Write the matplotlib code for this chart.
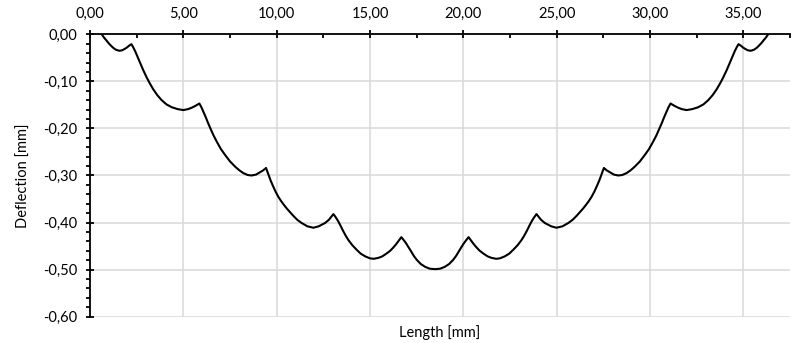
import matplotlib
matplotlib.use("Agg")
import matplotlib.pyplot as plt
from matplotlib.ticker import MultipleLocator, FuncFormatter

# Deflection line (x in mm, y in mm)
length_mm = [
    0.63, 0.75, 0.88, 1.00, 1.12, 1.25, 1.40, 1.57, 1.72, 1.86, 1.98, 2.10, 2.22,
    2.32, 2.42, 2.55, 2.68, 2.85, 3.04, 3.20, 3.39, 3.60, 3.84, 4.10, 4.38,
    4.70, 5.00, 5.25, 5.45, 5.65, 5.86,
    5.98, 6.08, 6.20, 6.32, 6.45, 6.62, 6.79, 7.00, 7.23, 7.50, 7.77, 8.00,
    8.22, 8.45, 8.66, 8.90, 9.11, 9.28, 9.43,
    9.55, 9.67, 9.80, 9.95, 10.10, 10.25, 10.40, 10.56, 10.72, 10.90, 11.10,
    11.34, 11.65, 11.97, 12.25, 12.59, 12.80, 13.04,
    13.15, 13.28, 13.40, 13.55, 13.70, 13.84, 14.05, 14.29, 14.50, 14.75,
    15.00, 15.20, 15.45, 15.65, 15.88, 16.08, 16.25, 16.40, 16.55, 16.68,
    16.80, 16.93, 17.06, 17.20, 17.35, 17.50, 17.72, 17.95, 18.20, 18.48,
    18.76, 19.01, 19.24, 19.46, 19.61, 19.76, 19.90, 20.03, 20.16, 20.28,
    20.41, 20.56, 20.71, 20.88, 21.08, 21.31, 21.51, 21.76, 21.96, 22.21,
    22.46, 22.67, 22.91, 23.12, 23.26, 23.41, 23.56, 23.68, 23.81, 23.92,
    24.16, 24.37, 24.71, 24.99, 25.31, 25.62, 25.86, 26.06, 26.24, 26.40,
    26.56, 26.71, 26.86, 27.01, 27.16, 27.29, 27.41, 27.53,
    27.68, 27.85, 28.06, 28.30, 28.51, 28.74, 28.96, 29.19, 29.46, 29.73,
    29.96, 30.17, 30.34, 30.51, 30.64, 30.76, 30.88, 30.98, 31.10,
    31.31, 31.51, 31.71, 31.96, 32.26, 32.58, 32.86, 33.12, 33.36, 33.57,
    33.76, 33.92, 34.11, 34.28, 34.41, 34.54, 34.64, 34.74,
    34.86, 34.98, 35.10, 35.24, 35.39, 35.56, 35.71, 35.84, 35.96, 36.08,
    36.21, 36.33,
]
deflection_mm = [
    0.000, -0.007, -0.013, -0.019, -0.024, -0.029, -0.033, -0.035, -0.034,
    -0.031, -0.028, -0.024, -0.021,
    -0.028, -0.036, -0.048, -0.060, -0.076, -0.092, -0.104, -0.117, -0.129,
    -0.140, -0.149, -0.155, -0.159, -0.161, -0.159, -0.156, -0.152, -0.147,
    -0.156, -0.165, -0.176, -0.188, -0.200, -0.215, -0.228, -0.243, -0.256,
    -0.270, -0.281, -0.289, -0.295, -0.299, -0.300, -0.298, -0.293, -0.289,
    -0.284,
    -0.297, -0.310, -0.322, -0.335, -0.346, -0.355, -0.363, -0.371, -0.378,
    -0.386, -0.394, -0.401, -0.408, -0.411, -0.408, -0.401, -0.394, -0.382,
    -0.388, -0.396, -0.405, -0.417, -0.428, -0.437, -0.448, -0.458, -0.466,
    -0.472, -0.476, -0.477, -0.475, -0.472, -0.466, -0.460, -0.453, -0.446,
    -0.438, -0.431,
    -0.437, -0.444, -0.452, -0.461, -0.471, -0.479, -0.488, -0.494, -0.498,
    -0.499, -0.498, -0.494, -0.488, -0.479, -0.471, -0.461, -0.452, -0.444,
    -0.437, -0.431,
    -0.438, -0.446, -0.453, -0.460, -0.466, -0.472, -0.475, -0.477, -0.476,
    -0.472, -0.466, -0.458, -0.448, -0.437, -0.428, -0.417, -0.405, -0.396,
    -0.388, -0.382,
    -0.394, -0.401, -0.408, -0.411, -0.408, -0.401, -0.394, -0.386, -0.378,
    -0.371, -0.363, -0.355, -0.346, -0.335, -0.322, -0.310, -0.297, -0.284,
    -0.289, -0.293, -0.298, -0.300, -0.299, -0.295, -0.289, -0.281, -0.270,
    -0.256, -0.243, -0.228, -0.215, -0.200, -0.188, -0.176, -0.165, -0.156,
    -0.147,
    -0.152, -0.156, -0.159, -0.161, -0.159, -0.155, -0.149, -0.140, -0.129,
    -0.117, -0.104, -0.092, -0.076, -0.060, -0.048, -0.036, -0.028, -0.021,
    -0.024, -0.028, -0.031, -0.034, -0.035, -0.033, -0.029, -0.024, -0.019,
    -0.013, -0.007, 0.000,
]

plt.rcParams["font.family"] = ["Lato", "DejaVu Sans"]

fig = plt.figure(figsize=(7.93, 3.43), dpi=100)
ax = fig.add_axes([0.1135, 0.0767, 0.8827, 0.8233])

ax.plot(length_mm, deflection_mm, color="black", lw=1.5,
        solid_joinstyle="round", zorder=3)

ax.set_xlim(0, 37.5)
ax.set_ylim(-0.6, 0)

comma = FuncFormatter(lambda v, p: f"{v:.2f}".replace(".", ",").replace("-0,00", "0,00"))
ax.xaxis.set_major_locator(MultipleLocator(5))
ax.xaxis.set_minor_locator(MultipleLocator(2.5))
ax.yaxis.set_major_locator(MultipleLocator(0.1))
ax.yaxis.set_minor_locator(MultipleLocator(0.02))
ax.xaxis.set_major_formatter(comma)
ax.yaxis.set_major_formatter(comma)

ax.xaxis.tick_top()
ax.tick_params(axis="x", which="major", direction="inout", length=6, width=1.3,
               pad=7, labelsize=10.5)
ax.tick_params(axis="x", which="minor", direction="in", length=3, width=1.3)
ax.tick_params(axis="y", which="major", direction="inout", length=6, width=1.3,
               pad=6, labelsize=10.5)
ax.tick_params(axis="y", which="minor", direction="out", length=3, width=1.3)

for s in ("right", "bottom"):
    ax.spines[s].set_visible(False)
for s in ("left", "top"):
    ax.spines[s].set_linewidth(1.3)
    ax.spines[s].set_zorder(4)

ax.grid(True, which="major", color="#d9d9d9", lw=1.1)
ax.set_axisbelow(True)

ax.set_xlabel("Length [mm]", fontsize=10.5)
ax.set_ylabel("Deflection [mm]", fontsize=10.5)
# axis titles sit below / left of the plot area, as in the original
ax.xaxis.set_label_position("bottom")
ax.xaxis.set_label_coords(0.5, -0.028)
ax.yaxis.set_label_coords(-0.084, 0.5)

fig.savefig("out.png", dpi=100)
